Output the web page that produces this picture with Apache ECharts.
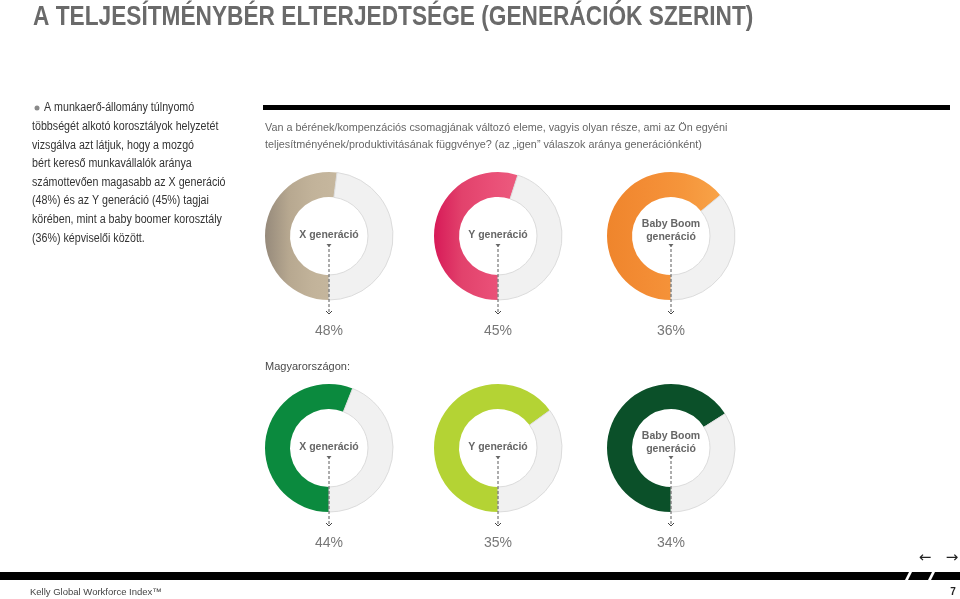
<!DOCTYPE html>
<html>
<head>
<meta charset="utf-8">
<script src="https://cdn.jsdelivr.net/npm/echarts@6/dist/echarts.min.js"></script>
<style>html,body{margin:0;padding:0;background:#fff;}#c{width:960px;height:599px;}</style>
</head>
<body>
<div id="c"></div>
<script>
// ---- data ----
const generations = ['X generáció', 'Y generáció', 'Baby Boom\ngeneráció'];
const globalValues = [48, 45, 36];
const hungaryValues = [44, 35, 34];
const titleText = 'A TELJESÍTMÉNYBÉR ELTERJEDTSÉGE (GENERÁCIÓK SZERINT)';
const questionLines = ['Van a bérének/kompenzációs csomagjának változó eleme, vagyis olyan része, ami az Ön egyéni', 'teljesítményének/produktivitásának függvénye? (az „igen” válaszok aránya generációnként)'];
const bulletLines = ['A munkaerő-állomány túlnyomó', 'többségét alkotó korosztályok helyzetét', 'vizsgálva azt látjuk, hogy a mozgó', 'bért kereső munkavállalók aránya', 'számottevően magasabb az X generáció', '(48%) és az Y generáció (45%) tagjai', 'körében, mint a baby boomer korosztály', '(36%) képviselői között.'];
const hungaryLabel = 'Magyarországon:';
const footerText = 'Kelly Global Workforce Index™';
const pageNumber = '7';

// ---- layout / styles ----
const centersX = [329, 498, 671];
const rowsY = [236, 448];
const grad = (stops) => new echarts.graphic.LinearGradient(0, 0, 1, 0, stops.map((c, k) => ({offset: k / (stops.length - 1), color: c})));
const colorsTop = [
  grad(['#968a7b', '#b7a890', '#c2b39a', '#c6b79e']),
  grad(['#d71a58', '#e2426c', '#e94e76', '#ec5b7e']),
  grad(['#ef852c', '#f38c34', '#f5953b', '#f8a348'])
];
const colorsBottom = ['#0b8a3e', '#b4d334', '#0b5029'];
const FONT = '"Liberation Sans", Arial, sans-serif';

const chart = echarts.init(document.getElementById('c'), null, {renderer: 'canvas'});

const series = [];
const graphics = [];
[globalValues, hungaryValues].forEach((vals, r) => {
  vals.forEach((v, i) => {
    series.push({
      type: 'pie',
      radius: [39, 64],
      center: [centersX[i], rowsY[r]],
      startAngle: 270,
      clockwise: true,
      silent: true,
      z: 1,
      label: {show: false},
      labelLine: {show: false},
      emphasis: {disabled: true},
      animation: false,
      data: [
        {value: 100 - v, name: 'rest', itemStyle: {color: r === 0 ? colorsTop[i] : colorsBottom[i]}},
        {value: v, name: generations[i], itemStyle: {color: '#f1f1f1', borderColor: '#dcdcdc', borderWidth: 1}}
      ]
    });
    const cx = centersX[i], cy = rowsY[r];
    const lines = generations[i].split('\n');
    lines.forEach((t, k) => {
      const yy = lines.length > 1 ? cy - 12 + k * 13 : cy - 1;
      graphics.push({
        type: 'text', silent: true, z: 100,
        style: {text: t, x: cx, y: yy, textAlign: 'center', textVerticalAlign: 'middle', font: 'bold 10.5px ' + FONT, fill: '#666'}
      });
    });
    const y0 = cy + 8, y1 = cy + 78;
    graphics.push({type: 'line', silent: true, z: 100, shape: {x1: cx, y1: y0, x2: cx, y2: y1}, style: {stroke: '#5a5a5a', lineWidth: 1, lineDash: [3, 2]}});
    graphics.push({type: 'polygon', silent: true, z: 100, shape: {points: [[cx - 2.5, y0], [cx + 2.5, y0], [cx, y0 + 3]]}, style: {fill: '#666'}});
    graphics.push({type: 'polyline', silent: true, z: 100, shape: {points: [[cx - 3, y1 - 3], [cx, y1], [cx + 3, y1 - 3]]}, style: {stroke: '#444', lineWidth: 1, fill: null}});
    graphics.push({
      type: 'text', silent: true, z: 100,
      style: {text: v + '%', x: cx, y: cy + 95, textAlign: 'center', textVerticalAlign: 'middle', font: '14px ' + FONT, fill: '#777'}
    });
  });
});

// title
graphics.push({type: 'text', silent: true, z: 100, x: 33, y: 4, scaleX: 0.84,
  style: {text: titleText, x: 0, y: 0, font: 'bold 27px ' + FONT, fill: '#6a6a6a'}});
// bullet text
graphics.push({type: 'circle', silent: true, z: 100, shape: {cx: 37, cy: 108, r: 2.5}, style: {fill: '#8a8a8a'}});
bulletLines.forEach((t, k) => {
  graphics.push({type: 'text', silent: true, z: 100, x: k === 0 ? 44 : 32, y: 108 + k * 18.6, scaleX: 0.89,
    style: {text: t, x: 0, y: 0, textVerticalAlign: 'middle', font: '12px ' + FONT, fill: '#333'}});
});
// top black bar
graphics.push({type: 'rect', silent: true, z: 100, shape: {x: 263, y: 105, width: 687, height: 5}, style: {fill: '#000'}});
questionLines.forEach((t, k) => {
  graphics.push({type: 'text', silent: true, z: 100,
    style: {text: t, x: 265, y: 128 + k * 17, textVerticalAlign: 'middle', font: '10.8px ' + FONT, fill: '#666'}});
});
graphics.push({type: 'text', silent: true, z: 100,
  style: {text: hungaryLabel, x: 265, y: 367, textVerticalAlign: 'middle', font: '11px ' + FONT, fill: '#4a4a4a'}});
// bottom bar
graphics.push({type: 'polygon', silent: true, z: 100, shape: {points: [[0, 580], [0, 572], [909, 572], [905, 580]]}, style: {fill: '#000'}});
graphics.push({type: 'polygon', silent: true, z: 100, shape: {points: [[908, 580], [912, 572], [932, 572], [928, 580]]}, style: {fill: '#000'}});
graphics.push({type: 'polygon', silent: true, z: 100, shape: {points: [[931, 580], [935, 572], [960, 572], [960, 580]]}, style: {fill: '#000'}});
// arrows
graphics.push({type: 'text', silent: true, z: 100, style: {text: '←', x: 925, y: 558, textAlign: 'center', textVerticalAlign: 'middle', font: '15px "DejaVu Sans"', fill: '#222'}});
graphics.push({type: 'text', silent: true, z: 100, style: {text: '→', x: 952, y: 558, textAlign: 'center', textVerticalAlign: 'middle', font: '15px "DejaVu Sans"', fill: '#222'}});
// footer
graphics.push({type: 'text', silent: true, z: 100, style: {text: footerText, x: 30, y: 592, textVerticalAlign: 'middle', font: '9.5px ' + FONT, fill: '#444'}});
graphics.push({type: 'text', silent: true, z: 100, style: {text: pageNumber, x: 953, y: 592, textAlign: 'center', textVerticalAlign: 'middle', font: 'bold 10px ' + FONT, fill: '#222'}});

chart.setOption({
  animation: false,
  backgroundColor: '#fff',
  series: series,
  graphic: {elements: graphics}
});
</script>
</body>
</html>
